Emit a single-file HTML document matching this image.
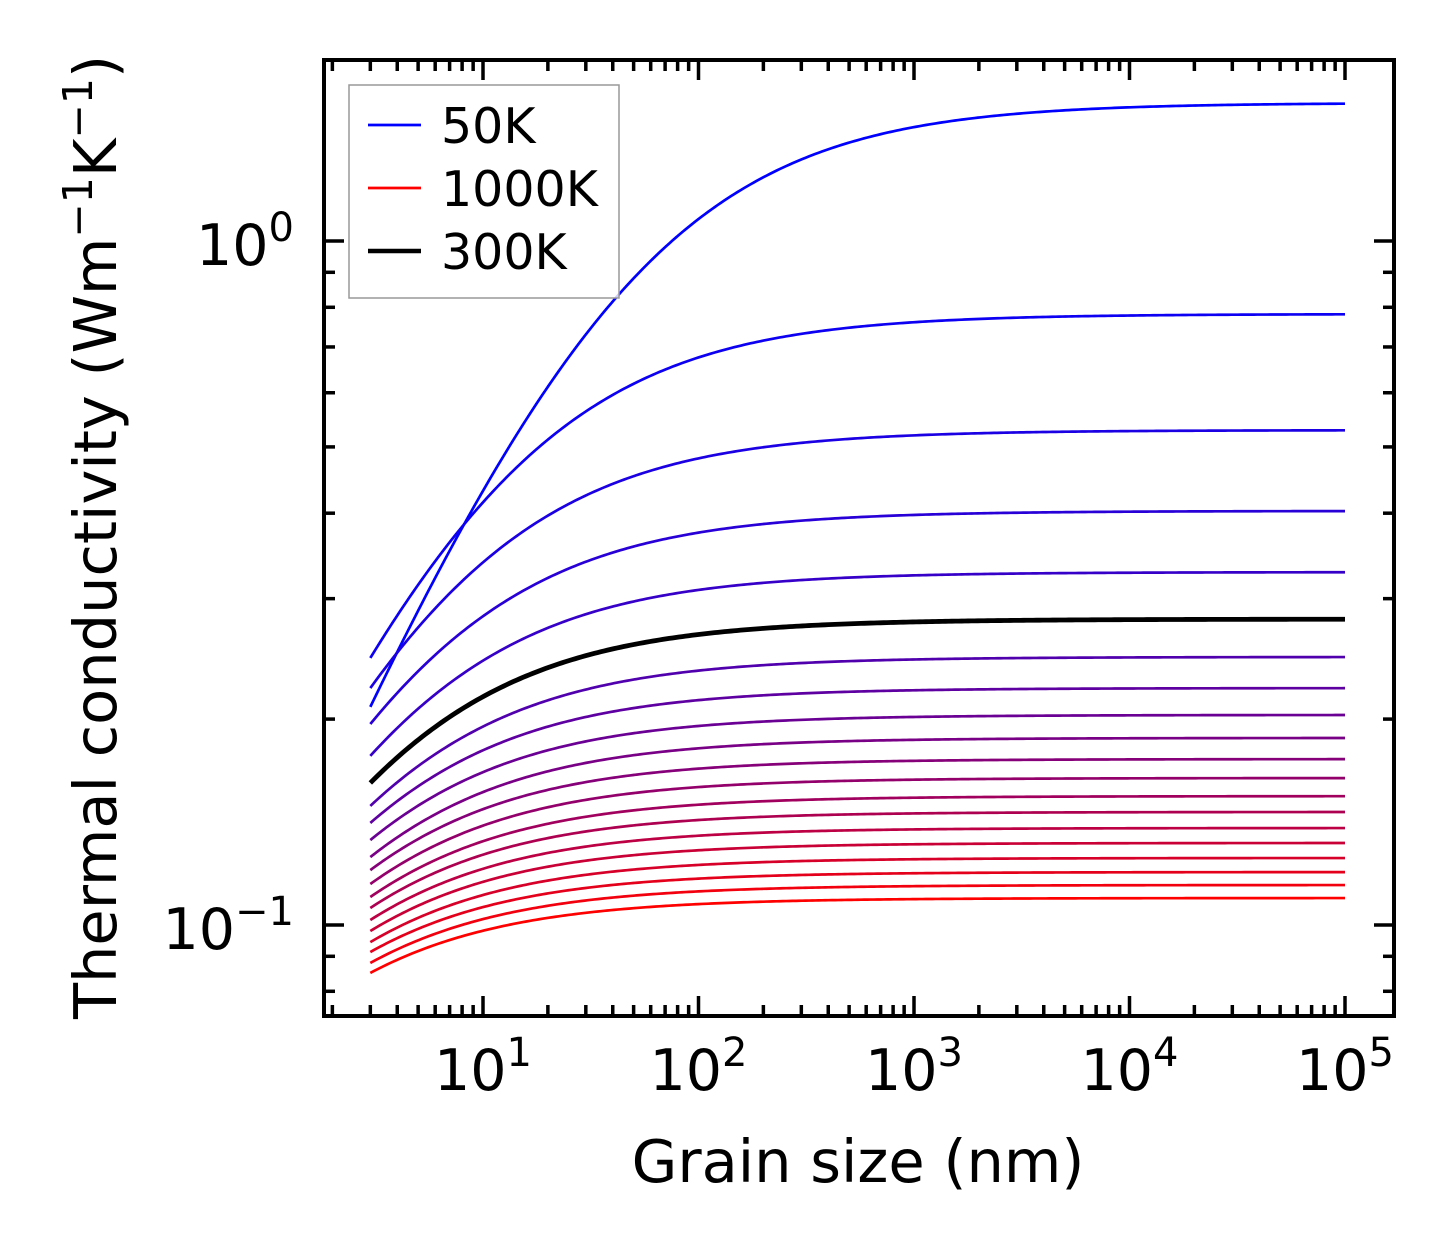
<!DOCTYPE html>
<html><head><meta charset="utf-8"><style>
html,body{margin:0;padding:0;background:#fff;}
svg{display:block;font-family:"DejaVu Sans","Liberation Sans",sans-serif;}
</style></head><body>
<svg id="chart" width="1454" height="1254" viewBox="0 0 1454 1254" xmlns="http://www.w3.org/2000/svg">
<g id="curves"></g>
<g id="ticks"></g>
<rect x="324" y="60" width="1070" height="956" fill="none" stroke="#000" stroke-width="4"/>
<g>
<rect x="349" y="85" width="270" height="213" fill="#fff" fill-opacity="0.8" stroke="#999" stroke-width="1.5"/>
<line x1="368" y1="125" x2="421" y2="125" stroke="#0000ff" stroke-width="2.7"/>
<text x="441" y="143" font-size="49">50K</text>
<line x1="368" y1="188" x2="421" y2="188" stroke="#ff0000" stroke-width="2.7"/>
<text x="441" y="206" font-size="49">1000K</text>
<line x1="368" y1="251" x2="421" y2="251" stroke="#000" stroke-width="4.5"/>
<text x="441" y="269" font-size="49">300K</text>
</g>
<g id="xlabels"></g>
<g id="ylabels"></g>
<text x="858" y="1182" font-size="59" text-anchor="middle">Grain size (nm)</text>
<text transform="translate(116,537) rotate(-90)" font-size="59" text-anchor="middle">Thermal conductivity (Wm<tspan font-size="41" dy="-24">−1</tspan><tspan dy="24">K</tspan><tspan font-size="41" dy="-24">−1</tspan><tspan dy="24">)</tspan></text>
</svg>
<script>
const temps = [50,100,150,200,250,300,350,400,450,500,550,600,650,700,750,800,850,900,950,1000];
const kBulk = [1.592,0.782,0.529,0.403,0.328,0.280,0.2465,0.222,0.2028,0.1877,0.1748,0.164,0.1543,0.1463,0.1386,0.1318,0.1253,0.1195,0.1144,0.1095];
const kAt3nm = [0.2084,0.2457,0.222,0.1967,0.1767,0.1613,0.1493,0.1410,0.1331,0.1257,0.1203,0.1148,0.1099,0.1059,0.1017,0.0980,0.0944,0.0913,0.0880,0.0851];
const xTickExps = [1,2,3,4,5];
const yTickExps = [0,-1];
const NS="http://www.w3.org/2000/svg";
const L=324,R=1394,T=60,B=1016;
function xs(v){return 483+215.5*(Math.log10(v)-1);}
function ys(v){return 241-684*Math.log10(v);}
const p=0.75;
const cg=document.getElementById('curves');
let blackPath=null;
temps.forEach((t,i)=>{
  const lam=3*Math.pow(kBulk[i]/kAt3nm[i]-1,1/p);
  let d='';
  for(let j=0;j<=300;j++){
    const lg=Math.log10(3)+(5-Math.log10(3))*j/300;
    const Ls=Math.pow(10,lg);
    const k=kBulk[i]/(1+Math.pow(lam/Ls,p));
    d+=(j?'L':'M')+xs(Ls).toFixed(2)+','+ys(k).toFixed(2);
  }
  const f=(t-50)/950;
  const el=document.createElementNS(NS,'path');
  el.setAttribute('d',d);
  el.setAttribute('fill','none');
  if(t===300){el.setAttribute('stroke','#000');el.setAttribute('stroke-width','4.8');}
  else{el.setAttribute('stroke','rgb('+Math.round(255*f)+',0,'+Math.round(255*(1-f))+')');el.setAttribute('stroke-width','2.7');}
  
  
  if(t===300) blackPath=el; else cg.appendChild(el);
});
cg.appendChild(blackPath);
const tg=document.getElementById('ticks');
function tick(x1,y1,x2,y2,name){
  const l=document.createElementNS(NS,'line');
  l.setAttribute('x1',x1);l.setAttribute('y1',y1);l.setAttribute('x2',x2);l.setAttribute('y2',y2);
  l.setAttribute('stroke','#000');l.setAttribute('stroke-width','3.5');
  
  
  tg.appendChild(l);
}
for(let e=0;e<=5;e++){for(let m=1;m<=9;m++){
  const v=m*Math.pow(10,e);const x=xs(v);
  if(x<L+2||x>R-2)continue;
  const len=(m===1)?20:11;
  tick(x,B,x,B-len,'x-tick');
  tick(x,T,x,T+len,'x-tick-top');
}}
for(let e=-2;e<=0;e++){for(let m=1;m<=9;m++){
  const v=m*Math.pow(10,e);const y=ys(v);
  if(y<T+2||y>B-2)continue;
  const len=(m===1)?20:11;
  tick(L,y,L+len,y,'y-tick');
  tick(R,y,R-len,y,'y-tick-right');
}}
const xl=document.getElementById('xlabels');
xTickExps.forEach(e=>{
  const t=document.createElementNS(NS,'text');
  t.setAttribute('x',xs(Math.pow(10,e)));t.setAttribute('y',1090);
  t.setAttribute('font-size','57');t.setAttribute('text-anchor','middle');
  t.innerHTML='10<tspan font-size="40" dy="-24">'+e+'</tspan>';
  
  
  xl.appendChild(t);
});
const yl=document.getElementById('ylabels');
yTickExps.forEach(e=>{
  const t=document.createElementNS(NS,'text');
  t.setAttribute('x',294);t.setAttribute('y',ys(Math.pow(10,e))+24);
  t.setAttribute('font-size','57');t.setAttribute('text-anchor','end');
  t.innerHTML='10<tspan font-size="40" dy="-24">'+(e<0?'−'+(-e):e)+'</tspan>';
  
  
  yl.appendChild(t);
});
</script>
</body></html>
